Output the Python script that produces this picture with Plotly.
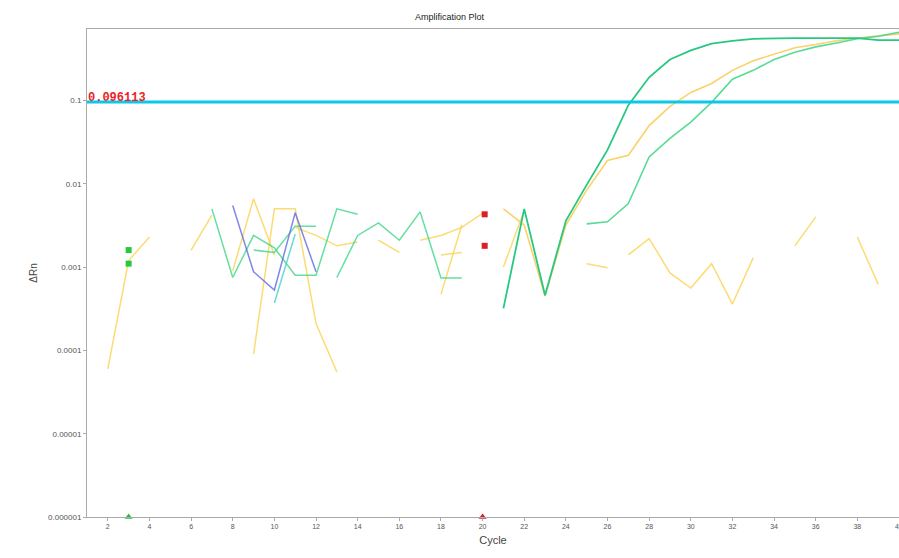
import math
import plotly.graph_objects as go

# Amplification data (delta Rn per cycle); gaps are cycles without a valid reading
yellow_amp_cycles = list(range(21, 41))
yellow_amp_values = [0.005, 0.0032, 0.00045, 0.0032, 0.0084, 0.019, 0.022, 0.05, 0.085, 0.125,
                     0.16, 0.23, 0.30, 0.36, 0.43, 0.47, 0.52, 0.56, 0.59, 0.63]

green_early_cycles = list(range(21, 41))
green_early_values = [0.00032, 0.005, 0.00046, 0.0036, 0.0097, 0.0255, 0.088, 0.19, 0.31, 0.40,
                      0.48, 0.52, 0.55, 0.56, 0.56, 0.56, 0.56, 0.56, 0.53, 0.53]

green_late_cycles = list(range(25, 41))
green_late_values = [0.0033, 0.0035, 0.0058, 0.021, 0.035, 0.055, 0.095, 0.18, 0.23, 0.31,
                     0.38, 0.44, 0.49, 0.55, 0.59, 0.66]

# Background noise traces (non-amplifying wells)
noise_yellow = [
    ([2, 3, 4], [0.00006, 0.0012, 0.0023]),
    ([6, 7], [0.0016, 0.0042]),
    ([8, 9, 10], [0.0009, 0.0066, 0.0014]),
    ([9, 10, 11, 12, 13], [0.00009, 0.005, 0.005, 0.00021, 0.000055]),
    ([11, 12, 13, 14], [0.003, 0.0024, 0.0018, 0.002]),
    ([15, 16], [0.0021, 0.0015]),
    ([17, 18, 19, 20], [0.0021, 0.0024, 0.003, 0.0044]),
    ([18, 19], [0.00047, 0.0032]),
    ([18, 19], [0.0014, 0.0015]),
    ([21, 22], [0.001, 0.0048]),
    ([25, 26], [0.0011, 0.00098]),
    ([27, 28, 29, 30, 31, 32, 33], [0.0014, 0.0022, 0.00085, 0.00056, 0.0011, 0.00036, 0.0013]),
    ([35, 36], [0.0018, 0.004]),
    ([38, 39], [0.0023, 0.00062]),
]

noise_green = [
    ([7, 8, 9, 10, 11, 12, 13, 14], [0.005, 0.00075, 0.0024, 0.0017, 0.0008, 0.0008, 0.005, 0.0043]),
    ([9, 10, 11, 12], [0.0016, 0.0015, 0.0031, 0.0031]),
    ([13, 14, 15, 16, 17, 18, 19], [0.00075, 0.0024, 0.0034, 0.0021, 0.0046, 0.00074, 0.00074]),
]

noise_teal = [
    ([10, 11], [0.00037, 0.0025]),
]

noise_blue = [
    ([8, 9, 10, 11, 12], [0.0055, 0.00088, 0.00053, 0.0045, 0.00088]),
]

threshold = 0.096113

# Ct / baseline markers
green_marker_cycles = [3, 3]
green_marker_values = [0.0016, 0.0011]
red_marker_cycles = [20.1, 20.1]
red_marker_values = [0.0043, 0.0018]
axis_marker_cycles = [3, 20]
axis_marker_values = [0.000001, 0.000001]

YELLOW = "rgba(250,208,70,0.75)"
GREEN = "rgba(60,215,135,0.8)"
TEAL = "rgba(80,210,205,0.85)"
BLUE = "rgba(95,105,225,0.8)"

fig = go.Figure()


def add_line(xs, ys, color, width=1.5):
    fig.add_trace(go.Scatter(x=xs, y=ys, mode="lines",
                             line=dict(color=color, width=width),
                             hoverinfo="skip", showlegend=False))


for xs, ys in noise_yellow:
    add_line(xs, ys, YELLOW)
for xs, ys in noise_green:
    add_line(xs, ys, GREEN)
for xs, ys in noise_teal:
    add_line(xs, ys, TEAL)
for xs, ys in noise_blue:
    add_line(xs, ys, BLUE)

add_line(yellow_amp_cycles, yellow_amp_values, "rgba(250,205,90,0.9)", 1.6)
add_line(green_late_cycles, green_late_values, "rgba(70,215,140,0.9)", 1.6)
add_line(green_early_cycles, green_early_values, "rgb(40,200,130)", 1.8)

# threshold line
fig.add_trace(go.Scatter(x=[1, 40], y=[threshold, threshold], mode="lines",
                         line=dict(color="rgb(10,200,230)", width=3),
                         hoverinfo="skip", showlegend=False))

fig.add_trace(go.Scatter(x=green_marker_cycles, y=green_marker_values, mode="markers",
                         marker=dict(symbol="square", size=6, color="rgb(40,200,60)"),
                         showlegend=False, hoverinfo="skip"))
fig.add_trace(go.Scatter(x=red_marker_cycles, y=red_marker_values, mode="markers",
                         marker=dict(symbol="square", size=6, color="rgb(220,30,40)"),
                         showlegend=False, hoverinfo="skip"))
fig.add_trace(go.Scatter(x=axis_marker_cycles, y=axis_marker_values, mode="markers",
                         marker=dict(symbol="triangle-up", size=7,
                                     color=["rgb(40,190,70)", "rgb(220,30,40)"]),
                         showlegend=False, hoverinfo="skip", cliponaxis=False))

# threshold value label (annotation y on a log axis is given in log10 units)
fig.add_annotation(x=1, y=math.log10(threshold), xref="x", yref="y",
                   yanchor="bottom", xanchor="left",
                   text="<b>0.096113</b>", showarrow=False, yshift=-5, xshift=-1,
                   font=dict(family="Liberation Mono", size=12, color="rgb(235,30,40)"))

fig.update_layout(
    width=899, height=558,
    margin=dict(l=87, r=0, t=29, b=41, autoexpand=False),
    paper_bgcolor="white", plot_bgcolor="white",
    font=dict(family="Liberation Sans", color="#444"),
    title=dict(text="Amplification Plot", x=0.5, xref="container", xanchor="center",
               y=1 - 17 / 558, yanchor="middle", font=dict(size=9, color="#222")),
)

fig.update_xaxes(
    range=[1, 40], tickmode="array", tickvals=list(range(2, 41, 2)),
    ticks="outside", ticklen=3, tickcolor="#aaa", tickfont=dict(size=7, color="#555"),
    ticklabeloverflow="allow", automargin=False,
    showgrid=False, zeroline=False, showline=True, linecolor="#aaa", linewidth=1, mirror=True,
    title=dict(text="Cycle", font=dict(size=11, color="#444"), standoff=6),
)

fig.update_yaxes(
    type="log", range=[-6, -0.142],
    tickmode="array", tickvals=[1e-6, 1e-5, 1e-4, 1e-3, 1e-2, 1e-1],
    ticktext=["0.000001", "0.00001", "0.0001", "0.001", "0.01", "0.1"],
    ticks="outside", ticklen=3, tickcolor="#aaa", tickfont=dict(size=8, color="#555"),
    showgrid=False, zeroline=False, showline=True, linecolor="#aaa", linewidth=1,
    automargin=False,
    title=dict(text="ΔRn", font=dict(size=10, color="#444"), standoff=8),
)

fig.write_html("out.html")
